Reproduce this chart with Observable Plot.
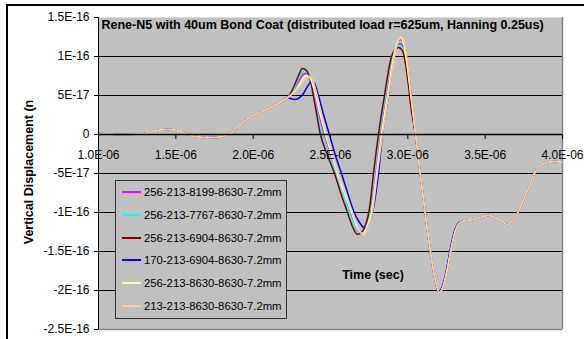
<!DOCTYPE html>
<html><head><meta charset="utf-8">
<script src="https://cdn.jsdelivr.net/npm/d3@7"></script>
<script src="https://cdn.jsdelivr.net/npm/@observablehq/plot@0.6"></script>
<style>
html,body{margin:0;padding:0;background:#fff;}
#wrap{position:relative;width:584px;height:339px;overflow:hidden;font-family:"Liberation Sans",Arial,sans-serif;}
#wrap svg{position:absolute;left:0;top:0;}
#border{position:absolute;left:6px;top:4px;width:700px;height:500px;border-left:2px solid #000;border-top:2px solid #000;pointer-events:none;}
#legend{position:absolute;left:115px;top:180px;width:170px;height:137px;background:#c0c0c0;border:1px solid #333;}
.row{position:absolute;left:0;height:14px;line-height:14px;font-size:11.3px;white-space:nowrap;color:#000;}
.swatch{position:absolute;left:6px;top:6px;width:19px;height:0;border-top:2px solid;}
.lab{position:absolute;left:28px;top:0;}
</style></head>
<body><div id="wrap"></div>
<script>
// units used in the arrays below: time in microseconds, displacement in 1e-17 m
const US = 1e-6, DU = 1e-17;

const titleText = "Rene-N5 with 40um Bond Coat (distributed load r=625um, Hanning 0.25us)";
const xTitle = "Time (sec)";
const yTitle = "Vertical Displacement (n";

const seriesNames = ["256-213-8199-8630-7.2mm","256-213-7767-8630-7.2mm","256-213-6904-8630-7.2mm","170-213-6904-8630-7.2mm","256-213-8630-8630-7.2mm","213-213-8630-8630-7.2mm"];
const seriesColors = ["#ff00ff","#00ffff","#800000","#0000ff","#ffff99","#ffcc99"];

const xTicks = [1.0e-6, 1.5e-6, 2.0e-6, 2.5e-6, 3.0e-6, 3.5e-6, 4.0e-6];
const xTickLabels = ["1.0E-06","1.5E-06","2.0E-06","2.5E-06","3.0E-06","3.5E-06","4.0E-06"];
const yTicks = [1.5e-16, 1e-16, 5e-17, 0, -5e-17, -1e-16, -1.5e-16, -2e-16, -2.5e-16];
const yTickLabels = ["1.5E-16","1E-16","5E-17","0","-5E-17","-1E-16","-1.5E-16","-2E-16","-2.5E-16"];

// shared early part (all series coincide)
const headTime  = [1.00, 1.06, 1.12, 1.20, 1.27, 1.33, 1.39, 1.44, 1.48, 1.53, 1.58, 1.64, 1.70, 1.76, 1.81, 1.85, 1.92, 2.00, 2.10, 2.18];
const headValue = [0, 0.05, 0, 0, 0.05, 0.25, 0.55, 0.65, 0.6, 0.35, 0, -0.3, -0.42, -0.4, -0.2, 0.1, 1.3, 2.44, 3.3, 4.2];

// shared descent to the deep minimum
const descentTime  = [3.069, 3.094, 3.120, 3.153, 3.178, 3.204, 3.230, 3.256, 3.275, 3.308, 3.340];
const descentValue = [-3.08, -7.18, -11.28, -15.9, -18.72, -20.26, -19.36, -17.18, -15.13, -12.3, -11.28];

// shared late plateau and recovery
const plateauTime  = [3.379, 3.424, 3.469, 3.521, 3.566, 3.612, 3.644, 3.676, 3.708, 3.741, 3.773, 3.799, 3.825, 3.857, 3.902, 3.954, 4.000];
const plateauValue = [-11.03, -10.9, -10.64, -10.38, -10.64, -11.15, -11.54, -11.15, -10.13, -8.72, -7.18, -5.9, -4.74, -3.97, -3.59, -3.46, -3.59];

// per-series middle parts
const magentaTime  = [2.222, 2.261, 2.293, 2.332, 2.357, 2.383, 2.416, 2.461, 2.506, 2.545, 2.590, 2.629, 2.661, 2.694, 2.720, 2.752, 2.791, 2.823, 2.862, 2.900, 2.926, 2.952, 2.972, 2.991, 3.010, 3.030, 3.043];
const magentaValue = [4.74, 5.51, 6.80, 7.82, 7.56, 6.15, 3.08, 0, -2.82, -5.0, -7.69, -10.0, -11.92, -12.69, -12.05, -10.0, -5.0, 0, 5.0, 9.87, 11.28, 11.67, 11.15, 9.49, 6.03, 2.82, 1.03];

const cyanTime  = [2.222, 2.261, 2.293, 2.325, 2.351, 2.377, 2.409, 2.448, 2.493, 2.539, 2.584, 2.623, 2.661, 2.700, 2.726, 2.752, 2.784, 2.816, 2.855, 2.894, 2.920, 2.946, 2.972, 2.991, 3.010, 3.030, 3.043];
const cyanValue = [4.74, 5.64, 7.18, 8.08, 7.82, 6.41, 3.33, 0, -2.82, -5.0, -7.69, -10.0, -12.05, -12.95, -12.18, -10.13, -5.0, 0, 5.0, 9.74, 11.03, 11.41, 10.9, 9.23, 5.9, 2.82, 1.03];

const darkRedTime  = [2.222, 2.261, 2.293, 2.319, 2.345, 2.370, 2.403, 2.435, 2.481, 2.526, 2.571, 2.610, 2.642, 2.674, 2.706, 2.732, 2.752, 2.778, 2.810, 2.849, 2.888, 2.913, 2.939, 2.965, 2.984, 3.004, 3.023, 3.043];
const darkRedValue = [4.74, 6.03, 7.56, 8.46, 8.21, 6.92, 3.46, 0, -2.69, -5.0, -7.82, -10.0, -11.79, -12.82, -12.44, -11.28, -9.49, -5.0, 0, 5.0, 9.49, 10.77, 11.15, 10.77, 9.23, 6.28, 3.08, 0.77];

const blueTime  = [2.222, 2.241, 2.267, 2.293, 2.325, 2.351, 2.377, 2.396, 2.422, 2.455, 2.493, 2.532, 2.571, 2.610, 2.648, 2.687, 2.726, 2.752, 2.778, 2.810, 2.836, 2.875, 2.907, 2.926, 2.952, 2.978, 2.997, 3.017, 3.036, 3.062, 3.088, 3.114, 3.146, 3.172, 3.198, 3.223, 3.249, 3.269, 3.301, 3.333];
const blueValue = [4.74, 4.62, 4.49, 4.62, 5.26, 6.15, 6.79, 6.54, 5.0, 2.56, 0, -2.69, -5.0, -7.44, -9.74, -11.28, -12.05, -11.28, -9.36, -5.0, 0, 5.0, 9.74, 11.41, 12.18, 11.54, 9.23, 5.51, 2.05, -2.05, -6.28, -10.38, -15.13, -18.21, -20.13, -19.49, -17.44, -15.26, -12.44, -11.28];

const yellowTime  = [2.222, 2.261, 2.299, 2.345, 2.370, 2.396, 2.429, 2.467, 2.506, 2.545, 2.590, 2.636, 2.668, 2.706, 2.732, 2.765, 2.797, 2.829, 2.868, 2.907, 2.926, 2.952, 2.972, 2.991, 3.017, 3.043];
const yellowValue = [4.74, 5.38, 6.41, 7.56, 7.18, 5.64, 2.95, 0, -2.56, -5.0, -7.56, -10.0, -11.79, -12.69, -11.92, -10.0, -5.0, 0, 5.0, 10.0, 11.54, 12.31, 11.67, 9.49, 5.38, 1.15];

const orangeTime  = [2.222, 2.261, 2.306, 2.338, 2.364, 2.383, 2.409, 2.435, 2.474, 2.513, 2.551, 2.597, 2.642, 2.674, 2.713, 2.739, 2.771, 2.803, 2.836, 2.875, 2.913, 2.933, 2.959, 2.978, 2.997, 3.017, 3.043];
const orangeValue = [4.74, 5.38, 6.28, 7.18, 7.44, 7.05, 5.38, 3.08, 0, -2.56, -5.0, -7.56, -10.0, -11.79, -12.82, -11.92, -10.0, -5.0, 0, 5.0, 10.0, 11.67, 12.56, 11.79, 9.49, 5.64, 1.15];

const seriesParts = [
  [[headTime, headValue], [magentaTime, magentaValue], [descentTime, descentValue], [plateauTime, plateauValue]],
  [[headTime, headValue], [cyanTime, cyanValue], [descentTime, descentValue], [plateauTime, plateauValue]],
  [[headTime, headValue], [darkRedTime, darkRedValue], [descentTime, descentValue], [plateauTime, plateauValue]],
  [[headTime, headValue], [blueTime, blueValue], [plateauTime, plateauValue]],
  [[headTime, headValue], [yellowTime, yellowValue], [descentTime, descentValue], [plateauTime, plateauValue]],
  [[headTime, headValue], [orangeTime, orangeValue], [descentTime, descentValue], [plateauTime, plateauValue]]
];

const table = [];
seriesParts.forEach((parts, s) => {
  parts.forEach(([ts, vs]) => ts.forEach((t, i) => table.push({series: seriesNames[s], time: t * US, value: vs[i] * DU})));
});

const yLabelMap = new Map(yTicks.map((d, i) => [d, yTickLabels[i]]));
const gridTicks = yTicks.slice(1, -1).filter(d => d !== 0);
const xMin = xTicks[0], xMax = xTicks[xTicks.length - 1];
const yMin = yTicks[yTicks.length - 1], yMax = yTicks[0];

const tickDown = {draw(context) { context.moveTo(0, 0); context.lineTo(0, 4.5); }};

const chart = Plot.plot({
  width: 584, height: 339,
  marginLeft: 98, marginRight: 22, marginTop: 17, marginBottom: 10,
  style: {fontFamily: "'Liberation Sans', Arial, sans-serif", fontSize: "12px", background: "transparent", overflow: "visible", color: "#000"},
  x: {domain: [xMin, xMax], axis: null},
  y: {domain: [yMin, yMax], ticks: yTicks, tickFormat: d => yLabelMap.get(d), tickSize: 4, tickPadding: 5, label: null},
  color: {domain: seriesNames, range: seriesColors},
  marks: [
    Plot.frame({fill: "#c0c0c0", stroke: "none"}),
    Plot.ruleY(gridTicks, {stroke: "#000", strokeWidth: 1}),
    Plot.ruleY([yMin], {stroke: "#808080", strokeWidth: 1.5}),
    Plot.ruleX([xMax], {stroke: "#808080", strokeWidth: 1.5}),
    Plot.line(table, {x: "time", y: "value", z: "series", stroke: "series", strokeWidth: 1.5, curve: "monotone-x"}),
    Plot.ruleX([xMin], {stroke: "#000", strokeWidth: 1}),
    Plot.ruleY([0], {stroke: "#000", strokeWidth: 1.5}),
    Plot.dot(xTicks.slice(1), {x: d => d, y: d => 0, symbol: tickDown, fill: "none", stroke: "#000", strokeWidth: 1}),
    Plot.text(xTicks, {x: d => d, y: d => 0, text: (d, i) => xTickLabels[i], dy: 20.2, fontSize: 12}),
    Plot.text([titleText], {text: d => d, frameAnchor: "top-left", dx: 3, dy: 7.3, textAnchor: "start", lineAnchor: "middle", fontWeight: "bold", fontSize: 12.5}),
    Plot.text([xTitle], {text: d => d, frameAnchor: "top-left", dx: 274.5, dy: 257, textAnchor: "middle", lineAnchor: "middle", fontWeight: "bold", fontSize: 12.5}),
    Plot.text([yTitle], {text: d => d, frameAnchor: "left", dx: -69.7, dy: -1.5, rotate: -90, textAnchor: "middle", lineAnchor: "middle", fontWeight: "bold", fontSize: 12.5})
  ]
});

const wrap = document.getElementById("wrap");
wrap.appendChild(chart);

const legend = document.createElement("div");
legend.id = "legend";
seriesNames.forEach((name, i) => {
  const row = document.createElement("div");
  row.className = "row";
  row.style.top = (11.3 + i * 22.7 - 7) + "px";
  row.style.width = "168px";
  const sw = document.createElement("div");
  sw.className = "swatch";
  sw.style.borderTopColor = seriesColors[i];
  const lab = document.createElement("span");
  lab.className = "lab";
  lab.textContent = name;
  row.appendChild(sw); row.appendChild(lab);
  legend.appendChild(row);
});
wrap.appendChild(legend);

const border = document.createElement("div");
border.id = "border";
wrap.appendChild(border);
</script></body></html>
